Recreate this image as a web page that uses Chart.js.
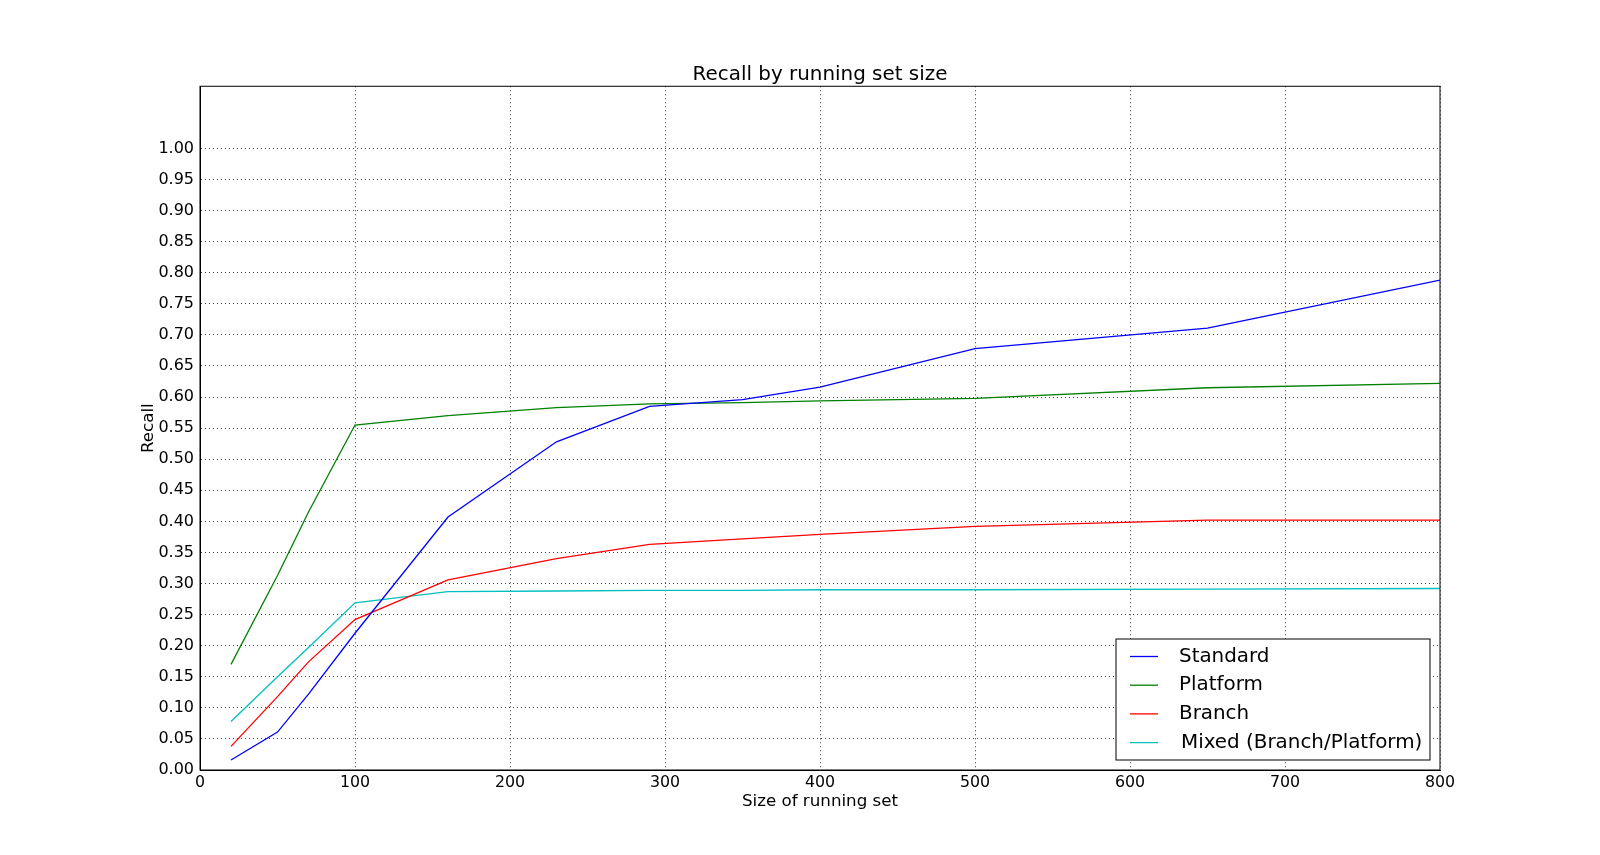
<!DOCTYPE html>
<html>
<head>
<meta charset="utf-8">
<script src="https://cdn.jsdelivr.net/npm/chart.js@4/dist/chart.umd.min.js"></script>
<style>
    html, body { margin: 0; padding: 0; background: #fff; }
    #wrap { width: 1600px; height: 855px; position: relative; }
</style>
</head>
<body>
<div id="wrap"><canvas id="graphCanvas"></canvas></div>
<script>
// running set sizes (x)
const runSizes = [20, 50, 70, 100, 160, 230, 290, 350, 400, 500, 650, 800];

const standardRecall = [0.016, 0.061, 0.122, 0.220, 0.407, 0.528, 0.585, 0.596, 0.616, 0.678, 0.711, 0.788];
const platformRecall = [0.170, 0.313, 0.415, 0.555, 0.570, 0.583, 0.589, 0.591, 0.594, 0.598, 0.615, 0.622];
const branchRecall = [0.038, 0.118, 0.174, 0.242, 0.306, 0.340, 0.363, 0.372, 0.379, 0.392, 0.402, 0.402];
const mixedRecall = [0.078, 0.150, 0.197, 0.269, 0.287, 0.288, 0.289, 0.289, 0.290, 0.290, 0.291, 0.292];

const seriesNames = ["Standard", "Platform", "Branch", "Mixed (Branch/Platform)"];
const seriesColors = ["#0000ff", "#008000", "#ff0000", "#00bfbf"];

const yTickValues = [0, 0.05, 0.10, 0.15, 0.20, 0.25, 0.30, 0.35, 0.40, 0.45, 0.50,
    0.55, 0.60, 0.65, 0.70, 0.75, 0.80, 0.85, 0.90, 0.95, 1.00];
const xTickValues = [0, 100, 200, 300, 400, 500, 600, 700, 800];

const FONT = "'DejaVu Sans', sans-serif";

function toPoints(values) {
    return values.map((v, i) => ({x: runSizes[i], y: v}));
}

const allSeries = [standardRecall, platformRecall, branchRecall, mixedRecall];
const datasets = allSeries.map((vals, i) => ({
    label: seriesNames[i],
    data: toPoints(vals),
    borderColor: seriesColors[i],
    backgroundColor: seriesColors[i],
    borderWidth: 1.3,
    fill: false
}));

// plot frame (top/right) + matplotlib-like legend box in lower right
const framePlugin = {
    id: 'frame',
    afterDraw(chart) {
        const {ctx, chartArea: a} = chart;
        ctx.save();
        ctx.strokeStyle = '#000';
        ctx.lineWidth = 1;
        ctx.strokeRect(a.left, a.top, a.right - a.left, a.bottom - a.top);

        // legend
        const w = 314, h = 121;
        const bx = a.right - 10 - w;
        const by = a.bottom - 10 - h;
        ctx.fillStyle = '#fff';
        ctx.fillRect(bx, by, w, h);
        ctx.strokeRect(bx, by, w, h);
        ctx.font = "19.9px " + FONT;
        ctx.textBaseline = 'middle';
        chart.data.datasets.forEach((ds, i) => {
            const rowY = by + 17.5 + i * 28.7;
            ctx.strokeStyle = ds.borderColor;
            ctx.lineWidth = 1.3;
            ctx.beginPath();
            ctx.moveTo(bx + 14, rowY);
            ctx.lineTo(bx + 42, rowY);
            ctx.stroke();
            ctx.fillStyle = '#000';
            ctx.fillText(ds.label, bx + (i === 3 ? 65 : 63), rowY);
        });
        ctx.restore();
    }
};

const ctx = document.getElementById('graphCanvas');

const chart = new Chart(ctx, {
    type: 'line',
    data: { datasets: datasets },
    plugins: [framePlugin],
    options: {
        responsive: true,
        maintainAspectRatio: false,
        animation: false,
        devicePixelRatio: 1,
        layout: {
            padding: { left: 120, right: 160, top: 50, bottom: 25 }
        },
        elements: {
            line: { tension: 0 },
            point: { radius: 0, hoverRadius: 0 }
        },
        scales: {
            x: {
                type: 'linear',
                min: 0,
                max: 800,
                afterBuildTicks: s => { s.ticks = xTickValues.map(v => ({value: v})); },
                afterFit: s => { s.height = 60; },
                ticks: {
                    color: '#000',
                    padding: 3,
                    font: { family: FONT, size: 15.8 },
                    maxRotation: 0
                },
                grid: {
                    color: 'rgba(0,0,0,0.75)',
                    lineWidth: 1,
                    drawTicks: false
                },
                border: { display: true, color: '#000', width: 1, dash: [1, 3] },
                title: {
                    display: true,
                    text: "Size of running set",
                    color: '#000',
                    font: { family: FONT, size: 16.7 },
                    padding: { top: 0, bottom: 18 }
                }
            },
            y: {
                type: 'linear',
                min: 0,
                max: 1.1,
                afterBuildTicks: s => { s.ticks = yTickValues.map(v => ({value: v})); },
                afterFit: s => { s.width = 80; },
                ticks: {
                    color: '#000',
                    padding: 6,
                    font: { family: FONT, size: 16 },
                    callback: v => Number(v).toFixed(2)
                },
                grid: {
                    color: 'rgba(0,0,0,0.75)',
                    lineWidth: 1,
                    drawTicks: false
                },
                border: { display: true, color: '#000', width: 1, dash: [1, 3] },
                title: {
                    display: true,
                    text: "Recall",
                    color: '#000',
                    font: { family: FONT, size: 16.7 },
                    padding: { top: 18.5, bottom: 0 }
                }
            }
        },
        plugins: {
            legend: { display: false },
            tooltip: { enabled: false },
            title: {
                display: true,
                fullSize: false,
                align: 'center',
                text: "Recall by running set size",
                color: '#000',
                font: { family: FONT, size: 19.9, weight: 'normal' },
                padding: { top: 12.4, bottom: 0 }
            }
        }
    }
});
</script>
</body>
</html>
